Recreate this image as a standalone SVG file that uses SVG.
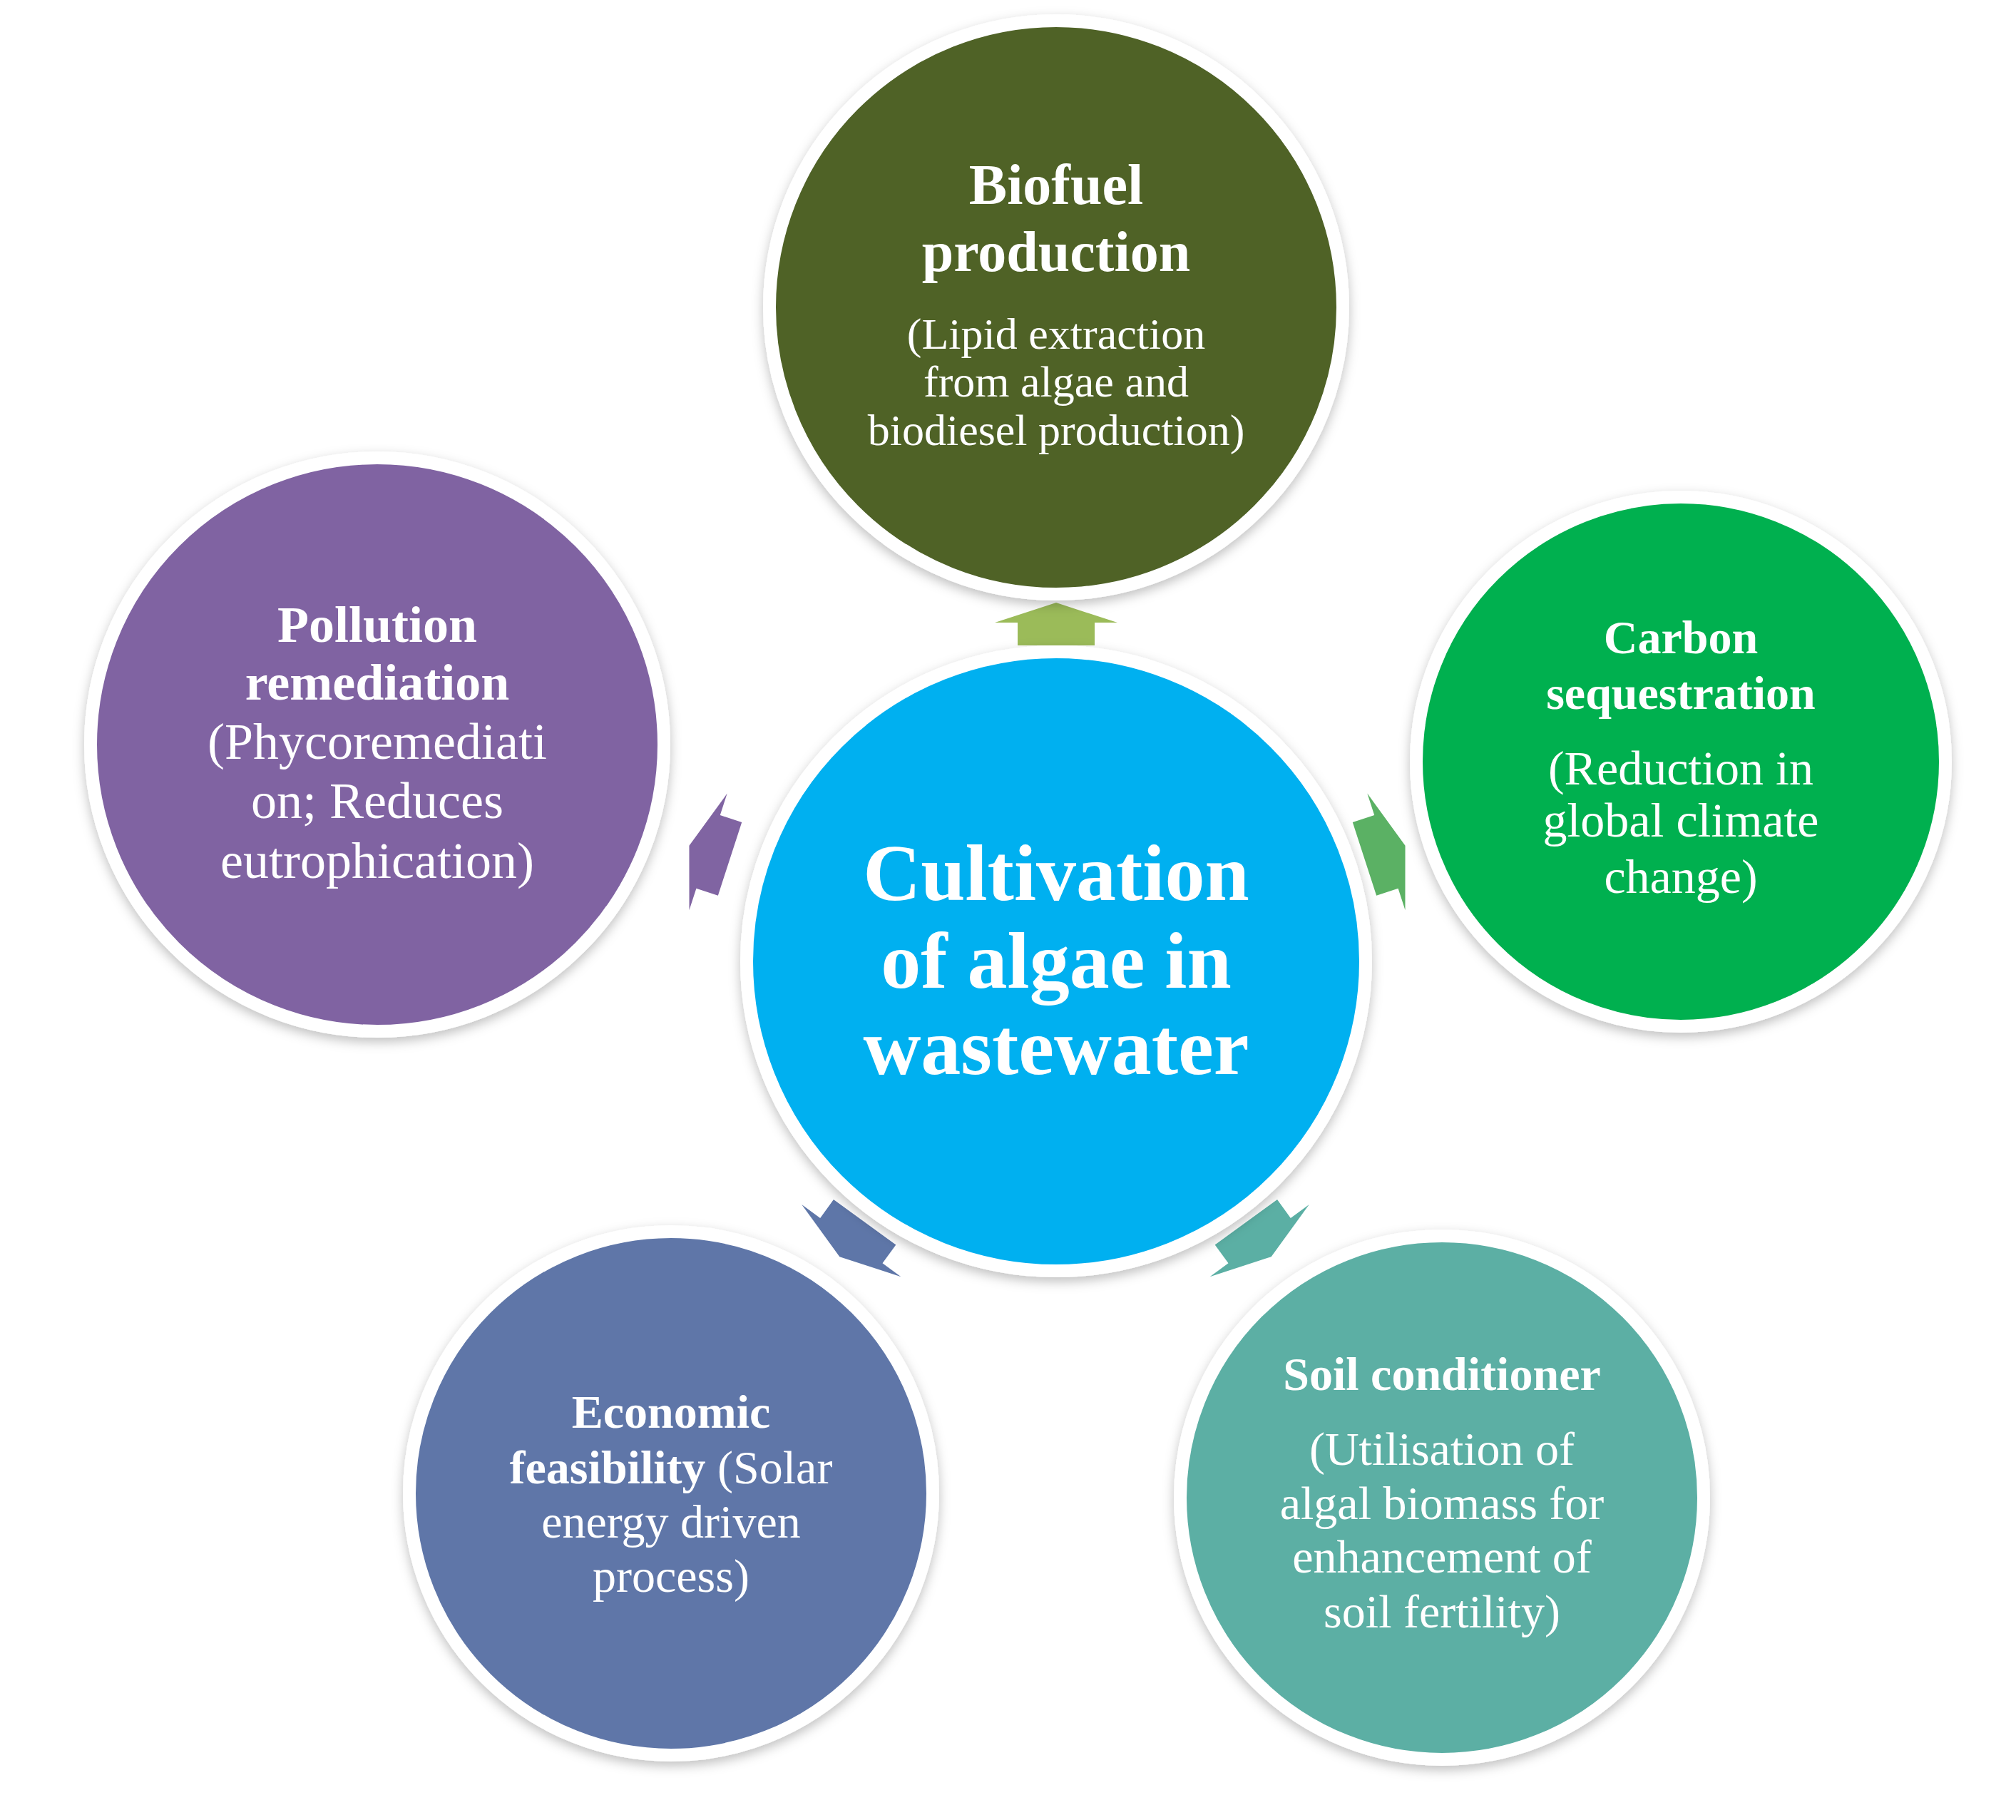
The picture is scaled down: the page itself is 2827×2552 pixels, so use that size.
<svg xmlns="http://www.w3.org/2000/svg" width="2827" height="2552" viewBox="0 0 2827 2552">
<defs>
<filter id="sh" x="-10%" y="-10%" width="120%" height="120%"><feDropShadow dx="0" dy="6" stdDeviation="8" flood-color="#000" flood-opacity="0.25"/></filter>
<path id="arr" d="M0,-30 L86,-2 L54,-2 L54,30 L-54,30 L-54,-2 L-86,-2 Z"/>
</defs>
<style>
.c{stroke:#fff;stroke-width:18;filter:url(#sh)}
text{font-family:"Liberation Serif","Times New Roman",serif;fill:#fff;text-anchor:middle}
.b{font-weight:bold}
</style>
<rect width="2827" height="2552" fill="#fff"/>
<g id="connectors">
<use href="#arr" fill="#9BBB59" transform="translate(1481,875)"/>
<use href="#arr" fill="#5BB164" transform="translate(1942,1195) rotate(72)"/>
<use href="#arr" fill="#8064A2" transform="translate(995,1195) rotate(-72)"/>
<use href="#arr" fill="#5E76A8" transform="translate(1195,1738) rotate(216)"/>
<use href="#arr" fill="#5BAFA4" transform="translate(1765,1738) rotate(144)"/>
</g>
<g id="biofuel">
<circle class="c" cx="1481" cy="431" r="402" fill="#4F6228"/>
<text class="b" x="1481" y="286" font-size="80">Biofuel</text>
<text class="b" x="1481" y="380" font-size="80">production</text>
<text x="1481" y="489" font-size="62">(Lipid extraction</text>
<text x="1481" y="556" font-size="62">from algae and</text>
<text x="1481" y="624" font-size="62">biodiesel production)</text>
</g>
<g id="pollution">
<circle class="c" cx="529" cy="1044" r="402" fill="#8064A2"/>
<text class="b" x="529" y="900" font-size="72">Pollution</text>
<text class="b" x="529" y="981" font-size="72">remediation</text>
<text x="529" y="1064" font-size="72">(Phycoremediati</text>
<text x="529" y="1147" font-size="72">on; Reduces</text>
<text x="529" y="1231" font-size="72">eutrophication)</text>
</g>
<g id="carbon">
<circle class="c" cx="2357" cy="1068" r="371" fill="#00B050"/>
<text class="b" x="2357" y="916" font-size="66">Carbon</text>
<text class="b" x="2357" y="994" font-size="66">sequestration</text>
<text x="2357" y="1100" font-size="68">(Reduction in</text>
<text x="2357" y="1173" font-size="68">global climate</text>
<text x="2357" y="1252" font-size="68">change)</text>
</g>
<g id="center">
<circle class="c" cx="1481" cy="1348" r="434" fill="#00B0F0"/>
<text class="b" x="1481" y="1262" font-size="112">Cultivation</text>
<text class="b" x="1481" y="1385" font-size="112">of algae in</text>
<text class="b" x="1481" y="1506" font-size="112">wastewater</text>
</g>
<g id="economic">
<circle class="c" cx="941" cy="2094" r="367" fill="#5E76A8"/>
<text class="b" x="941" y="2002" font-size="66">Economic</text>
<text x="941" y="2080" font-size="66"><tspan font-weight="bold">feasibility</tspan> (Solar</text>
<text x="941" y="2156" font-size="66">energy driven</text>
<text x="941" y="2232" font-size="66">process)</text>
</g>
<g id="soil">
<circle class="c" cx="2022" cy="2100" r="367" fill="#5BAFA4"/>
<text class="b" x="2022" y="1949" font-size="66">Soil conditioner</text>
<text x="2022" y="2054" font-size="66">(Utilisation of</text>
<text x="2022" y="2130" font-size="66">algal biomass for</text>
<text x="2022" y="2205" font-size="66">enhancement of</text>
<text x="2022" y="2282" font-size="66">soil fertility)</text>
</g>
</svg>
